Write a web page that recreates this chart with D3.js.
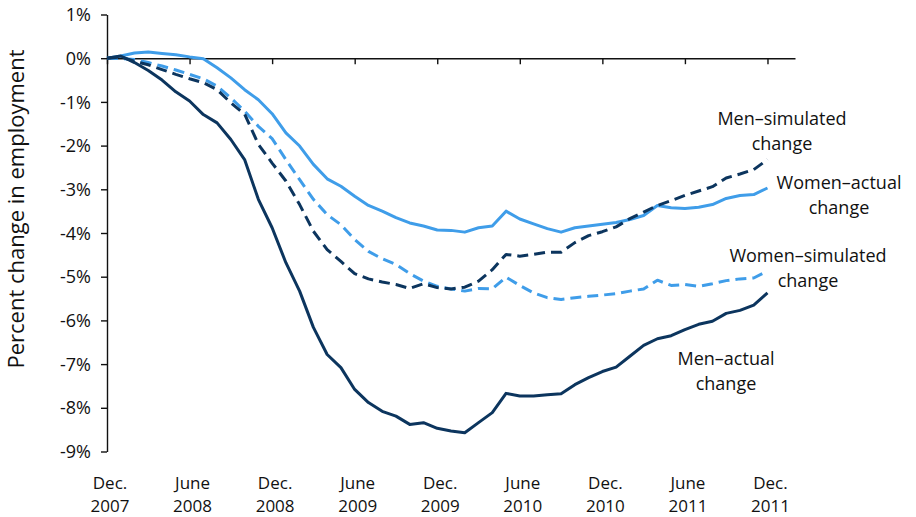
<!DOCTYPE html>
<html>
<head>
<meta charset="utf-8">
<script src="https://cdn.jsdelivr.net/npm/d3@7"></script>
<style>
  html, body { margin: 0; padding: 0; background: #fff; }
  svg { display: block; }
  text { font-family: "Open Sans", "Noto Sans", sans-serif; fill: #111; }
</style>
</head>
<body>
<svg id="chart" width="916" height="517"></svg>
<script>
// ---- data (monthly, Dec. 2007 = index 0 ... Dec. 2011 = index 48) ----
const tickMonths = [0, 6, 12, 18, 24, 30, 36, 42, 48];
const tickLabels = [["Dec.", "2007"], ["June", "2008"], ["Dec.", "2008"], ["June", "2009"], ["Dec.", "2009"],
                    ["June", "2010"], ["Dec.", "2010"], ["June", "2011"], ["Dec.", "2011"]];
const yTicks = [1, 0, -1, -2, -3, -4, -5, -6, -7, -8, -9];

const menActual = [0, 0.05, -0.1, -0.28, -0.5, -0.77, -0.98, -1.29, -1.48, -1.86, -2.32, -3.23, -3.88,
  -4.68, -5.33, -6.16, -6.78, -7.08, -7.58, -7.88, -8.08, -8.19, -8.38, -8.34, -8.47,
  -8.53, -8.57, -8.34, -8.11, -7.67, -7.73, -7.73, -7.70, -7.68, -7.47, -7.31, -7.17,
  -7.07, -6.82, -6.57, -6.42, -6.35, -6.21, -6.09, -6.02, -5.84, -5.77, -5.65, -5.37];

const menSimulated = [0, 0.03, -0.07, -0.15, -0.26, -0.37, -0.47, -0.56, -0.72, -1.02, -1.28, -1.97, -2.40,
  -2.81, -3.35, -3.96, -4.38, -4.65, -4.93, -5.05, -5.12, -5.18, -5.27, -5.16, -5.25,
  -5.28, -5.24, -5.10, -4.84, -4.49, -4.53, -4.49, -4.44, -4.44, -4.22, -4.06, -3.97,
  -3.86, -3.67, -3.52, -3.37, -3.26, -3.14, -3.04, -2.94, -2.74, -2.65, -2.55, -2.32];

const womenActual = [0, 0.05, 0.12, 0.14, 0.11, 0.08, 0.03, -0.01, -0.22, -0.45, -0.72, -0.95, -1.27,
  -1.71, -2.01, -2.43, -2.76, -2.93, -3.16, -3.37, -3.50, -3.65, -3.77, -3.84, -3.93,
  -3.94, -3.98, -3.88, -3.84, -3.50, -3.68, -3.79, -3.90, -3.98, -3.88, -3.84, -3.80,
  -3.76, -3.69, -3.60, -3.37, -3.42, -3.44, -3.41, -3.35, -3.21, -3.14, -3.12, -2.97];

const womenSimulated = [0, -0.01, -0.03, -0.1, -0.18, -0.27, -0.37, -0.47, -0.64, -0.91, -1.21, -1.56, -1.84,
  -2.32, -2.78, -3.23, -3.58, -3.81, -4.15, -4.42, -4.59, -4.72, -4.93, -5.10, -5.22,
  -5.28, -5.33, -5.27, -5.28, -5.01, -5.20, -5.37, -5.48, -5.52, -5.48, -5.45, -5.42,
  -5.39, -5.33, -5.28, -5.08, -5.20, -5.18, -5.22, -5.16, -5.09, -5.05, -5.03, -4.87];

const seriesNames = ["Women–actual", "Women–simulated", "Men–simulated", "Men–actual"];

// ---- styles ----
const DARK = "#0c355e";
const LIGHT = "#3f9de9";

const series = [
  { name: seriesNames[0], values: womenActual, color: LIGHT, dash: null,
    label: ["Women–actual", "change"], lx: 839, ly: 189 },
  { name: seriesNames[1], values: womenSimulated, color: LIGHT, dash: "11,6",
    label: ["Women–simulated", "change"], lx: 808, ly: 262 },
  { name: seriesNames[2], values: menSimulated, color: DARK, dash: "11,6",
    label: ["Men–simulated", "change"], lx: 782, ly: 125 },
  { name: seriesNames[3], values: menActual, color: DARK, dash: null,
    label: ["Men–actual", "change"], lx: 726, ly: 365 }
];

const svg = d3.select("#chart");
const x = d3.scaleLinear().domain([0, 50]).range([107, 795]);
const y = d3.scaleLinear().domain([-9, 1]).range([451.5, 14.5]);

// y axis
const yAxis = svg.append("g")
  .attr("transform", `translate(${x(0)},0)`)
  .call(d3.axisLeft(y).tickValues(yTicks).tickSize(6).tickSizeOuter(0)
    .tickFormat(d => d + "%").tickPadding(10));
yAxis.select(".domain").attr("stroke", "#111").attr("stroke-width", 1.4);
yAxis.selectAll(".tick line").attr("stroke", "#111").attr("stroke-width", 1.4);
yAxis.selectAll(".tick text").style("font-family", '"Open Sans", sans-serif')
  .style("font-size", "18px").attr("fill", "#111").attr("dy", "0.34em");

// x axis at 0%
const xAxis = svg.append("g")
  .attr("transform", `translate(0,${y(0)})`)
  .call(d3.axisBottom(x).tickValues(tickMonths).tickSize(6).tickSizeOuter(0).tickFormat(""));
xAxis.select(".domain").attr("stroke", "#111").attr("stroke-width", 1.4);
xAxis.selectAll(".tick line").attr("stroke", "#111").attr("stroke-width", 1.4);

// x category labels at bottom (two lines each)
const xl = svg.append("g");
tickMonths.forEach((m, i) => {
  [0, 1].forEach(k => {
    xl.append("text")
      .attr("x", x(m) + 3)
      .attr("y", 489 + k * 23)
      .attr("text-anchor", "middle")
      .style("font-size", "17px")
      .text(tickLabels[i][k]);
  });
});

// y title
svg.append("text")
  .attr("transform", "translate(24,209) rotate(-90)")
  .attr("text-anchor", "middle")
  .style("font-size", "22px")
  .text("Percent change in employment");

// lines
const line = d3.line().x((d, i) => x(i)).y(d => y(d));
series.forEach(s => {
  svg.append("path")
    .datum(s.values)
    .attr("fill", "none")
    .attr("stroke", s.color)
    .attr("stroke-width", 3)
    .attr("stroke-dasharray", s.dash)
    .attr("stroke-linejoin", "round")
    .attr("d", line);
});

// labels
series.forEach(s => {
  [0, 1].forEach(k => {
    svg.append("text")
      .attr("x", s.lx).attr("y", s.ly + k * 24.5)
      .attr("text-anchor", "middle")
      .style("font-size", "18px")
      .text(s.label[k]);
  });
});
</script>
</body>
</html>
